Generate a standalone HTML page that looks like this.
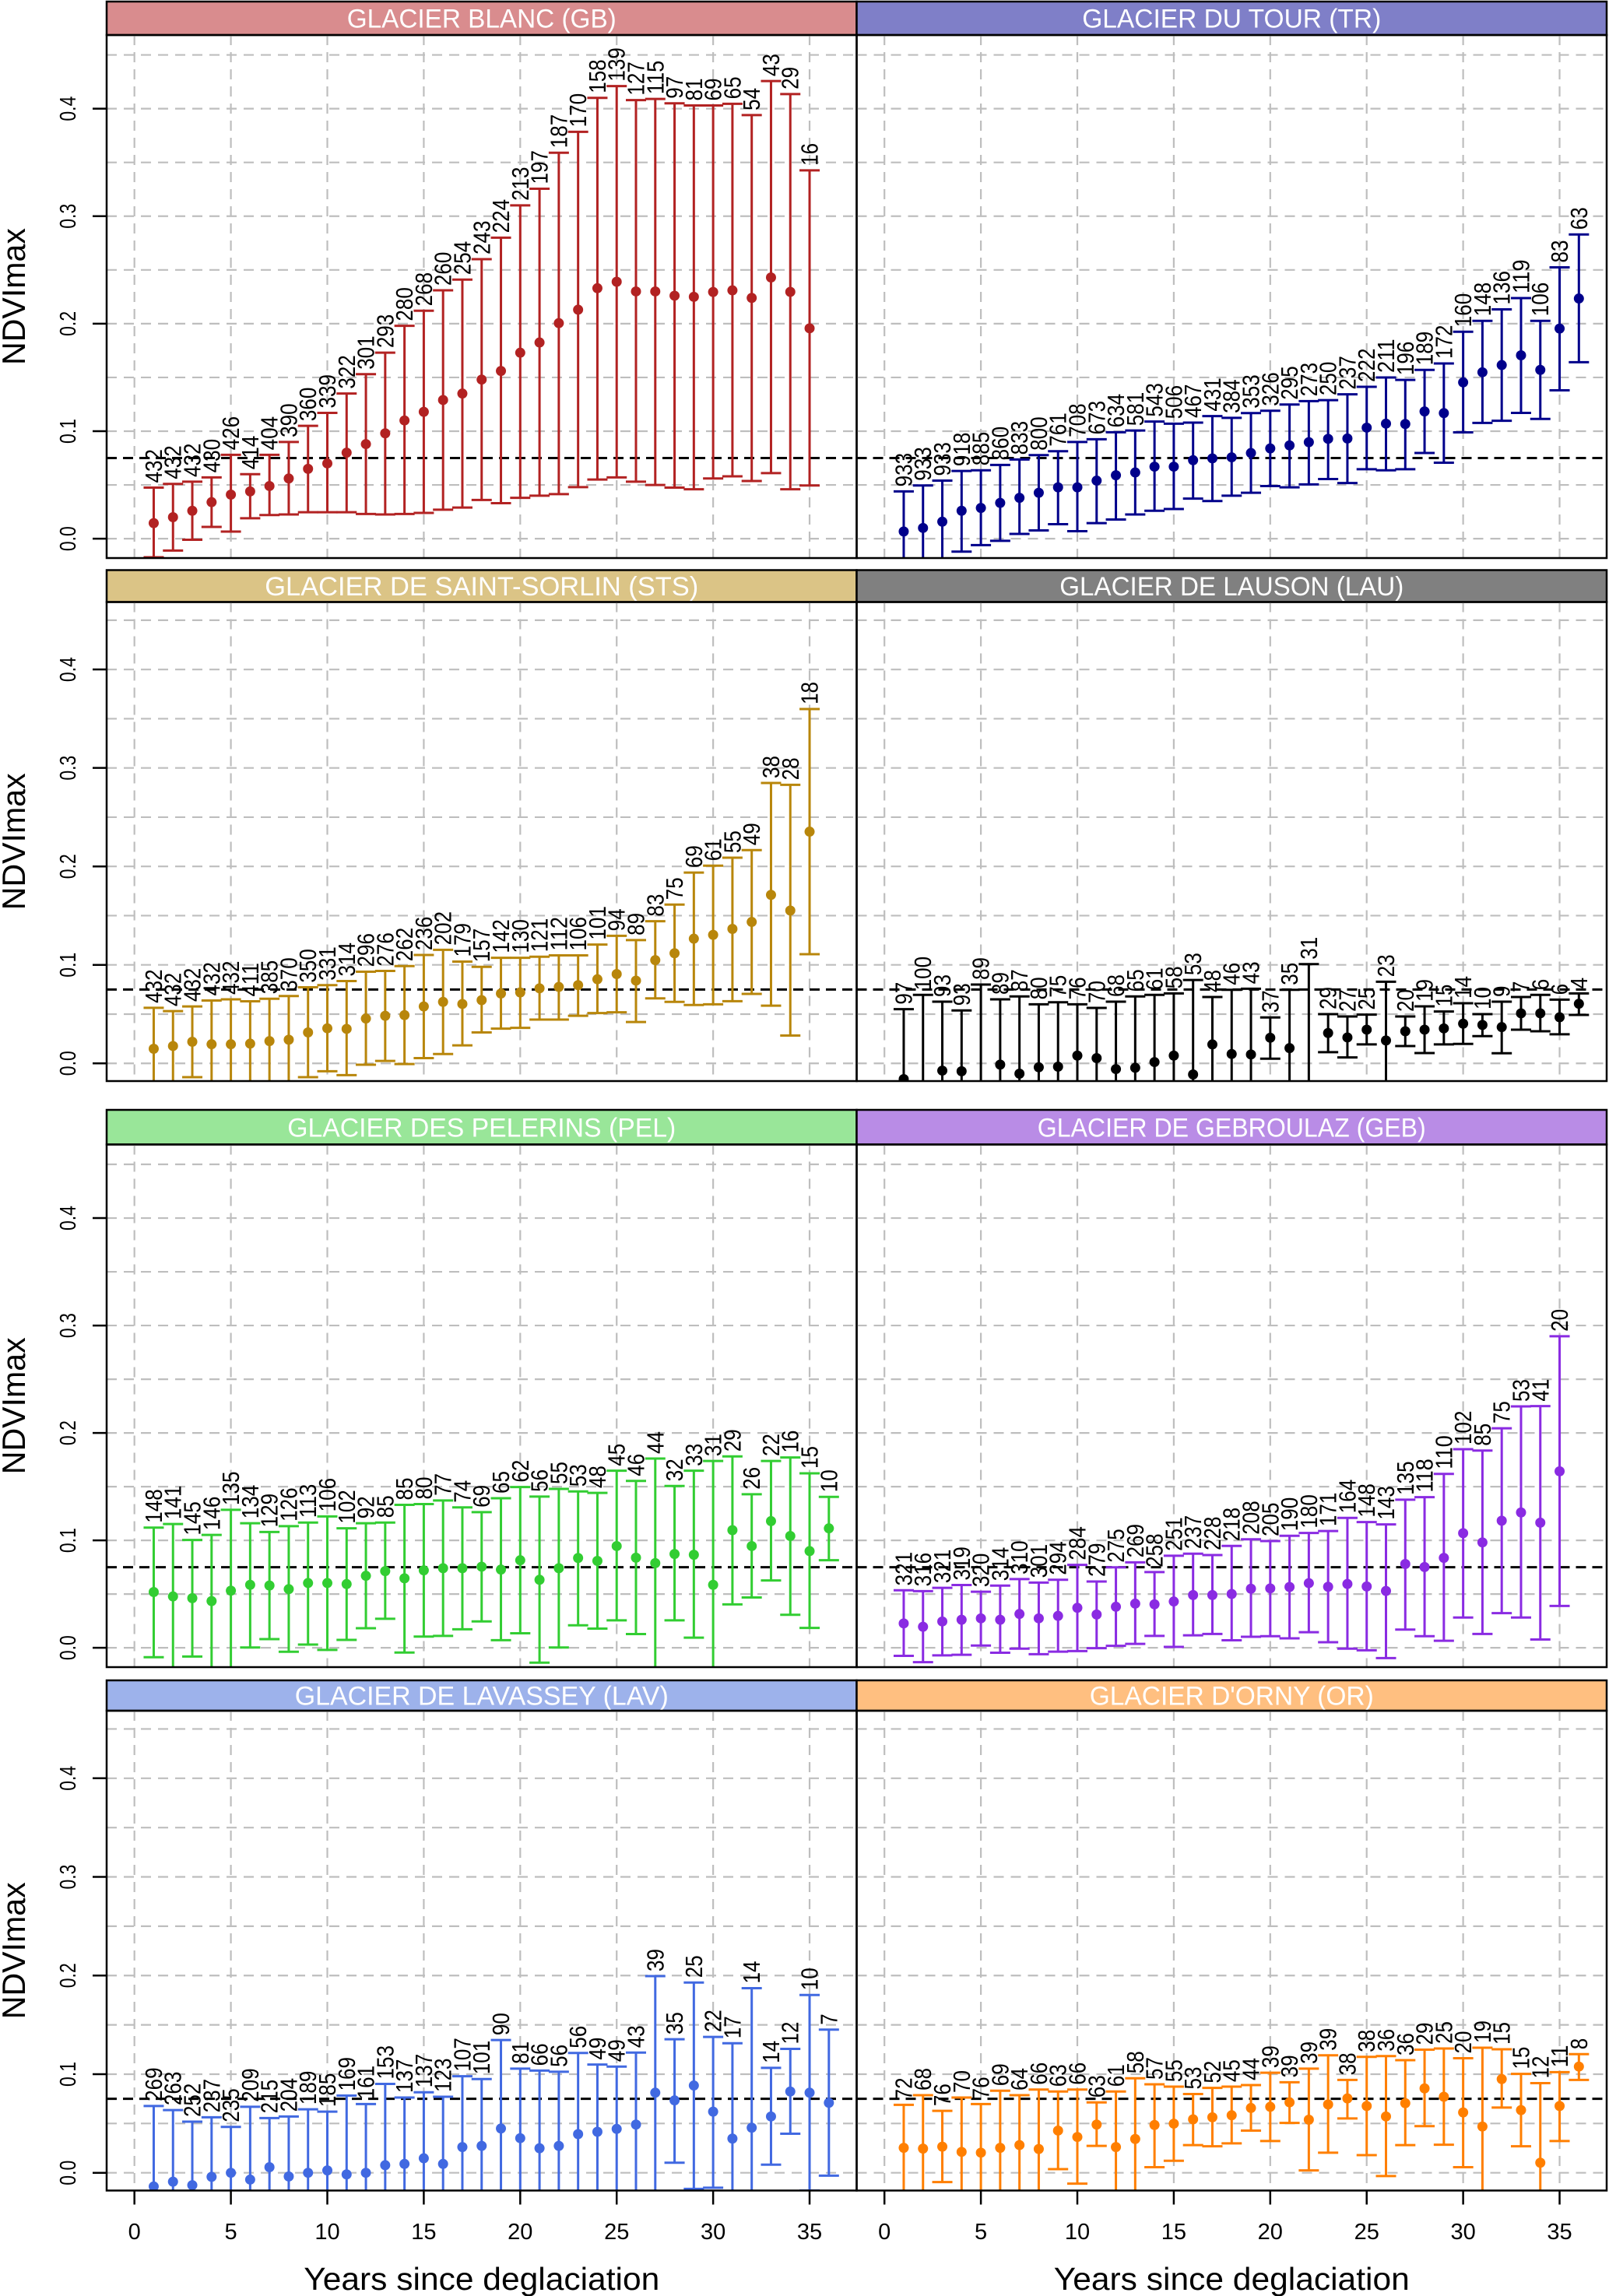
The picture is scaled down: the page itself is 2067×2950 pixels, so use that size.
<!DOCTYPE html>
<html><head><meta charset="utf-8"><title>NDVImax vs years since deglaciation</title>
<style>
html,body{margin:0;padding:0;background:#fff;}
svg{display:block;font-family:"Liberation Sans",Arial,sans-serif;}
</style></head>
<body>
<svg id="chart" xmlns="http://www.w3.org/2000/svg" width="2067" height="2950" viewBox="0 0 2067 2950">
<rect x="0" y="0" width="2067" height="2950" fill="#ffffff"/>
</svg>
<script>
// ---- data ----
const years35 = [1,2,3,4,5,6,7,8,9,10,11,12,13,14,15,16,17,18,19,20,21,22,23,24,25,26,27,28,29,30,31,32,33,34,35];
const years36 = [1,2,3,4,5,6,7,8,9,10,11,12,13,14,15,16,17,18,19,20,21,22,23,24,25,26,27,28,29,30,31,32,33,34,35,36];
const yTicks = [0, 0.1, 0.2, 0.3, 0.4];
const yTickLabels = ["0.0","0.1","0.2","0.3","0.4"];
const yGrid = [0,0.05,0.1,0.15,0.2,0.25,0.3,0.35,0.4,0.45];
const xTicks = [0,5,10,15,20,25,30,35];
const xTickLabels = ["0","5","10","15","20","25","30","35"];
const refValue = 0.075;

// GLACIER BLANC (GB)
const gbMean = [.0145,.020,.026,.034,.041,.044,.049,.056,.065,.070,.080,.088,.098,.110,.118,.129,.135,.148,.156,.173,.1825,.2005,.213,.233,.239,.230,.230,.226,.225,.2295,.231,.224,.243,.2296,.1957];
const gbHi = [.0475,.051,.053,.057,.078,.060,.078,.090,.105,.117,.135,.153,.173,.198,.212,.231,.241,.260,.280,.310,.3255,.359,.3785,.410,.421,.408,.409,.405,.403,.403,.4045,.394,.4257,.4136,.3426];
const gbLo = [-.0173,-.011,-.001,.011,.0066,.019,.022,.0225,.0246,.0246,.0246,.023,.0225,.023,.024,.027,.029,.036,.033,.038,.040,.0415,.048,.055,.057,.053,.050,.0475,.046,.056,.058,.0537,.061,.046,.0495];
const gbN = [432,432,432,430,426,414,404,390,360,339,322,301,293,280,268,260,254,243,224,213,197,187,170,158,139,127,115,97,81,69,65,54,43,29,16];

// GLACIER DU TOUR (TR)
const trMean = [.0067,.010,.0158,.026,.0286,.0333,.038,.0427,.0478,.0478,.054,.059,.0616,.067,.067,.073,.0747,.0757,.0797,.084,.0868,.0898,.0929,.0932,.1033,.107,.1067,.1184,.1168,.1454,.1548,.1615,.1706,.157,.1955,.2234];
const trHi = [.044,.0495,.054,.063,.0636,.0686,.0737,.0777,.0814,.090,.0925,.099,.1006,.109,.107,.108,.114,.1124,.1168,.119,.1248,.128,.1289,.1343,.1413,.150,.1477,.157,.163,.1925,.2026,.2133,.2238,.2026,.2524,.283];
const trLo = [-.03,-.03,-.03,-.012,-.006,-.002,.0044,.0077,.0135,.007,.0145,.0178,.0225,.026,.0276,.0373,.035,.040,.0427,.049,.0478,.0505,.0555,.0518,.0646,.0636,.0646,.0797,.0707,.0989,.1077,.1097,.117,.1114,.138,.1642];
const trN = [933,933,933,918,885,860,833,800,761,708,673,634,581,543,506,467,431,384,353,326,295,273,250,237,222,211,196,189,172,160,148,136,119,106,83,63];

// GLACIER DE SAINT-SORLIN (STS)
const stsMean = [.0148,.0176,.0219,.0194,.0194,.020,.0226,.024,.0314,.0356,.035,.0455,.0483,.049,.0578,.0624,.0603,.0642,.0709,.072,.0762,.0776,.0794,.0854,.0907,.084,.1048,.1118,.1266,.1305,.1365,.1436,.1711,.1552,.2353];
const stsHi = [.0564,.053,.0578,.0638,.065,.063,.0656,.0684,.0772,.0794,.0836,.0931,.0938,.0988,.110,.1153,.1033,.098,.1072,.1072,.1083,.1097,.1097,.1206,.1295,.1252,.1443,.1612,.1937,.2007,.2088,.2166,.2847,.2829,.3598];
const stsLo = [-.03,-.019,-.014,-.03,-.03,-.03,-.03,-.03,-.014,-.008,-.012,-.0014,.0025,-.0007,.0053,.0095,.0183,.0314,.0353,.036,.0444,.0444,.0483,.0511,.0519,.042,.066,.0624,.0593,.060,.0631,.0705,.0586,.0282,.1108];
const stsN = [432,432,432,432,432,411,385,370,350,331,314,296,276,262,236,202,179,157,142,130,121,112,106,101,94,89,83,75,69,61,55,49,38,28,18];

// GLACIER DE LAUSON (LAU)
const lauMean = [-.016,-.025,-.0074,-.008,-.025,-.0013,-.0105,-.004,-.0034,.0079,.0053,-.0058,-.0045,.0013,.0079,-.0113,.0192,.0095,.009,.026,.0155,-.025,.0308,.0263,.0342,.0232,.0326,.0342,.0355,.0403,.039,.0368,.0508,.0508,.0468,.0605];
const lauHi = [.055,.0695,.0626,.0537,.080,.065,.068,.060,.062,.060,.0563,.0626,.068,.0695,.071,.0847,.0674,.0747,.0758,.0466,.0747,.1008,.050,.0476,.0495,.0829,.0476,.0579,.0526,.061,.050,.0626,.0674,.0695,.0647,.071];
const lauLo = [-.03,-.03,-.03,-.03,-.03,-.03,-.03,-.03,-.03,-.03,-.03,-.03,-.03,-.03,-.03,-.03,-.03,-.03,-.03,.0047,-.03,-.03,.0113,.006,.0192,-.03,.0176,.0105,.0192,.0197,.0276,.0103,.0342,.0326,.0295,.0492];
const lauN = [97,100,93,93,89,89,87,80,75,76,70,68,65,61,58,53,48,46,43,37,35,31,29,27,25,23,20,19,15,14,10,9,7,6,6,4];

// GLACIER DES PELERINS (PEL)
const pelMean = [.0519,.0478,.0462,.0435,.0532,.0586,.058,.0546,.0603,.0603,.0593,.067,.0714,.0647,.0721,.0741,.0741,.0755,.0728,.0815,.0633,.0741,.0836,.0809,.0947,.0839,.0788,.0873,.0866,.0586,.1095,.0947,.1179,.1041,.090,.1112];
const pelHi = [.1119,.1152,.1004,.1051,.1284,.1159,.1078,.1132,.1166,.1223,.1112,.1159,.1166,.1331,.1338,.1371,.1307,.1263,.1392,.1496,.1408,.1479,.1456,.1442,.1648,.1553,.1762,.1506,.1648,.1739,.1782,.1429,.1739,.1772,.1624,.1405];
const pelLo = [-.0088,-.03,-.0081,-.03,-.03,.0003,.0081,-.0037,.003,-.002,.0074,.0182,.027,-.0044,.0104,.0111,.0172,.0246,.0071,.0135,-.0138,.0003,.0209,.0179,.0256,.0128,-.03,.0256,.0094,-.03,.0404,.0468,.0627,.0307,.0185,.0815];
const pelN = [148,141,145,146,135,134,129,126,113,106,102,92,85,85,80,77,74,69,65,62,56,55,53,48,45,46,44,32,33,31,29,26,22,16,15,10];

// GLACIER DE GEBROULAZ (GEB)
const gebMean = [.0227,.0196,.0245,.0261,.0274,.0261,.0315,.0274,.0297,.0372,.031,.0382,.0411,.0405,.0431,.0491,.0491,.0501,.055,.0553,.0566,.0602,.0568,.0594,.0571,.0529,.078,.0752,.0837,.1067,.0981,.1183,.126,.1165,.1643];
const gebHi = [.0535,.0527,.0558,.0584,.0522,.0579,.064,.0607,.0633,.0772,.0617,.0749,.0795,.0705,.0857,.0876,.0863,.0948,.101,.0994,.1043,.1069,.1087,.1209,.117,.1149,.1379,.1402,.1619,.1849,.1836,.2043,.2247,.225,.290];
const gebLo = [-.0075,-.0134,-.007,-.0065,.0021,-.0046,-.0008,-.006,-.0036,-.0031,-.0003,.0018,.0036,.0111,.0008,.0116,.0129,.007,.0103,.0108,.0088,.0145,.0052,-.0008,-.0023,-.0096,.017,.0108,.0065,.0282,.0129,.0323,.0282,.0077,.039];
const gebN = [321,316,321,319,320,314,310,301,294,284,279,275,269,258,251,237,228,218,208,205,190,180,171,164,148,143,135,118,110,102,85,75,53,41,20];

// GLACIER DE LAVASSEY (LAV)
const lavMean = [-.0139,-.009,-.0126,-.0041,0,-.0069,.0057,-.0037,0,.0024,-.0016,0,.0077,.009,.0147,.009,.0261,.0273,.0449,.0351,.0249,.0273,.0392,.0416,.0445,.0489,.0812,.0734,.0885,.062,.0347,.0457,.0571,.0824,.0812,.071];
const lavHi = [.0677,.0636,.0518,.0563,.0465,.0669,.0555,.0571,.0644,.062,.0783,.0697,.0901,.0763,.0816,.0771,.0979,.095,.1346,.1056,.1036,.1024,.1215,.1097,.1077,.1219,.1994,.1354,.1929,.1378,.1313,.1872,.1064,.1256,.1803,.1452];
const lavLo = [-.03,-.03,-.03,-.03,-.03,-.03,-.03,-.03,-.03,-.03,-.03,-.03,-.03,-.03,-.03,-.03,-.03,-.03,-.03,-.03,-.03,-.03,-.03,-.03,-.03,-.03,-.03,.0102,-.0163,-.0151,-.03,-.03,.0082,.0396,-.018,-.0029];
const lavN = [269,263,252,237,235,209,215,204,189,185,169,161,153,137,137,123,107,101,90,81,66,56,56,49,49,43,39,35,25,22,17,14,14,12,10,7];

// GLACIER D'ORNY (OR)
const orMean = [.0253,.0245,.0265,.0212,.0204,.0253,.0281,.0241,.0428,.0363,.0489,.0261,.0343,.0485,.0498,.0542,.0563,.0583,.0657,.0669,.0714,.0538,.0693,.0754,.0677,.0571,.0706,.0856,.0771,.0612,.0469,.095,.0636,.0102,.0677,.1077];
const orHi = [.0689,.0787,.0628,.0763,.0697,.0832,.0787,.0844,.0824,.0844,.0714,.0824,.0958,.0897,.0873,.0799,.0861,.0873,.0889,.1015,.0918,.1056,.1191,.0942,.1175,.1183,.1142,.1248,.126,.1162,.1268,.1252,.1003,.0909,.102,.1203];
const orLo = [-.03,-.03,-.0094,-.03,-.03,-.03,-.03,-.03,.0037,-.011,.0273,-.03,-.03,.0057,.0122,.0281,.0269,.0298,.0428,.0322,.0506,.0024,.0204,.0551,.0179,-.0033,.0281,.0473,.0285,.0057,-.03,.0661,.0269,-.03,.0322,.0942];
const orN = [72,68,76,70,76,69,64,66,63,66,63,61,58,57,55,53,52,45,44,39,39,39,39,38,38,36,36,29,25,20,19,15,15,12,11,8];

// ---- layout ----
const svg = document.getElementById('chart');
const NS = 'http://www.w3.org/2000/svg';
const cols = [{x0:137, x1:1100.5}, {x0:1100.5, x1:2064}];
const rows = [{st:2, pt:45, pb:717}, {st:732.5, pt:773.5, pb:1389}, {st:1426, pt:1470.5, pb:2142}, {st:2159, pt:2198, pb:2814.5}];
const yMin = -0.018, yMax = 0.4685, xMin = -1.44, xMax = 37.44;

const panels = [
  {title:'GLACIER BLANC (GB)', key:'gb', col:0, row:0, strip:'#D98C8E', color:'#B22222', years:years35, mean:gbMean, hi:gbHi, lo:gbLo, n:gbN},
  {title:'GLACIER DU TOUR (TR)', key:'tr', col:1, row:0, strip:'#7F7FC8', color:'#00008B', years:years36, mean:trMean, hi:trHi, lo:trLo, n:trN},
  {title:'GLACIER DE SAINT-SORLIN (STS)', key:'sts', col:0, row:1, strip:'#DBC486', color:'#B8860B', years:years35, mean:stsMean, hi:stsHi, lo:stsLo, n:stsN},
  {title:'GLACIER DE LAUSON (LAU)', key:'lau', col:1, row:1, strip:'#808080', color:'#000000', years:years36, mean:lauMean, hi:lauHi, lo:lauLo, n:lauN},
  {title:'GLACIER DES PELERINS (PEL)', key:'pel', col:0, row:2, strip:'#99E699', color:'#32CD32', years:years36, mean:pelMean, hi:pelHi, lo:pelLo, n:pelN},
  {title:'GLACIER DE GEBROULAZ (GEB)', key:'geb', col:1, row:2, strip:'#B98CE6', color:'#8A2BE2', years:years35, mean:gebMean, hi:gebHi, lo:gebLo, n:gebN},
  {title:'GLACIER DE LAVASSEY (LAV)', key:'lav', col:0, row:3, strip:'#9DB2EB', color:'#4169E1', years:years36, mean:lavMean, hi:lavHi, lo:lavLo, n:lavN},
  {title:"GLACIER D'ORNY (OR)", key:'or', col:1, row:3, strip:'#FFBF80', color:'#FF7F00', years:years36, mean:orMean, hi:orHi, lo:orLo, n:orN}
];

function mk(tag, attrs, parent){
  const e = document.createElementNS(NS, tag);
  for (const k in attrs) e.setAttribute(k, attrs[k]);
  (parent || svg).appendChild(e);
  return e;
}

const defs = mk('defs', {});

panels.forEach(function(p){
  const c = cols[p.col], r = rows[p.row];
  const xs = function(v){ return c.x0 + (v - xMin) / (xMax - xMin) * (c.x1 - c.x0); };
  const ys = function(v){ return r.pb - (v - yMin) / (yMax - yMin) * (r.pb - r.pt); };

  const g = mk('g', {});
  
  

  // strip
  const strip = mk('rect', {x:c.x0, y:r.st, width:c.x1-c.x0, height:r.pt-r.st, fill:p.strip, stroke:'#000', 'stroke-width':2.5}, g);
  
  
  const st = mk('text', {x:(c.x0+c.x1)/2, y:(r.st+r.pt)/2 + 12, 'text-anchor':'middle', fill:'#fff', 'font-size':34, textLength:(p.title.length*19.2).toFixed(0), lengthAdjust:'spacingAndGlyphs'}, g);
  st.textContent = p.title;
  
  

  // clip
  const cp = mk('clipPath', {id:'clip-' + p.key}, defs);
  mk('rect', {x:c.x0, y:r.pt, width:c.x1-c.x0, height:r.pb-r.pt}, cp);

  // grid
  const grid = mk('g', {stroke:'#BEBEBE', 'stroke-width':2.2, 'stroke-dasharray':'13 9', fill:'none', 'clip-path':'url(#clip-' + p.key + ')'}, g);
  
  
  xTicks.forEach(function(t){ mk('line', {x1:xs(t), x2:xs(t), y1:r.pt, y2:r.pb}, grid); });
  yGrid.forEach(function(t){ mk('line', {x1:c.x0, x2:c.x1, y1:ys(t), y2:ys(t)}, grid); });

  // reference line
  const ref = mk('line', {x1:c.x0, x2:c.x1, y1:ys(refValue), y2:ys(refValue), stroke:'#000', 'stroke-width':3, 'stroke-dasharray':'13 8'}, g);
  
  

  // series
  const series = mk('g', {'clip-path':'url(#clip-' + p.key + ')', stroke:p.color, fill:p.color, 'stroke-width':3}, g);
  
  
  const labels = mk('g', {fill:'#000', 'font-size':31}, g);
  
  

  p.years.forEach(function(yr, i){
    const bx = xs(yr);
    const yh = ys(p.hi[i]), yl = ys(p.lo[i]), ym = ys(p.mean[i]);
    const bar = mk('path', {d:'M'+bx+' '+yl+'V'+yh+'M'+(bx-13)+' '+yh+'H'+(bx+13)+'M'+(bx-13)+' '+yl+'H'+(bx+13), fill:'none'}, series);
    
    
    const dot = mk('circle', {cx:bx, cy:ym, r:6.5, stroke:'none'}, series);
    
    
    const ly = yh - 6;
    const s = String(p.n[i]);
    const t = mk('text', {x:bx, y:ly, transform:'rotate(-90 '+bx+' '+ly+')', 'dominant-baseline':'central', textLength:(s.length*14.5).toString(), lengthAdjust:'spacingAndGlyphs'}, labels);
    t.textContent = s;
    
    
  });

  // border
  const border = mk('rect', {x:c.x0, y:r.pt, width:c.x1-c.x0, height:r.pb-r.pt, fill:'none', stroke:'#000', 'stroke-width':2.5}, g);
  
  

  // y axis (left column)
  if (p.col === 0) {
    const ya = mk('g', {}, g);
    
    
    yTicks.forEach(function(t, k){
      mk('line', {x1:c.x0-18, x2:c.x0, y1:ys(t), y2:ys(t), stroke:'#000', 'stroke-width':2.5}, ya);
      const lab = mk('text', {x:97, y:ys(t), transform:'rotate(-90 97 '+ys(t)+')', 'text-anchor':'middle', 'font-size':29, textLength:32, lengthAdjust:'spacingAndGlyphs'}, ya);
      lab.textContent = yTickLabels[k];
      
      
    });
    const ymid = (r.pt + r.pb) / 2;
    const yt = mk('text', {x:32, y:ymid, transform:'rotate(-90 32 '+ymid+')', 'text-anchor':'middle', 'font-size':42, textLength:176, lengthAdjust:'spacingAndGlyphs'}, g);
    yt.textContent = 'NDVImax';
    
    
  }

  // x axis (bottom row)
  if (p.row === 3) {
    const xa = mk('g', {}, g);
    
    
    xTicks.forEach(function(t, k){
      mk('line', {x1:xs(t), x2:xs(t), y1:r.pb, y2:r.pb+18, stroke:'#000', 'stroke-width':2.5}, xa);
      const lab = mk('text', {x:xs(t), y:2877, 'text-anchor':'middle', 'font-size':29}, xa);
      lab.textContent = xTickLabels[k];
      
      
    });
    const xt = mk('text', {x:(c.x0+c.x1)/2, y:2942, 'text-anchor':'middle', 'font-size':41, textLength:457, lengthAdjust:'spacingAndGlyphs'}, g);
    xt.textContent = 'Years since deglaciation';
    
    
  }
});
</script>
</body></html>
